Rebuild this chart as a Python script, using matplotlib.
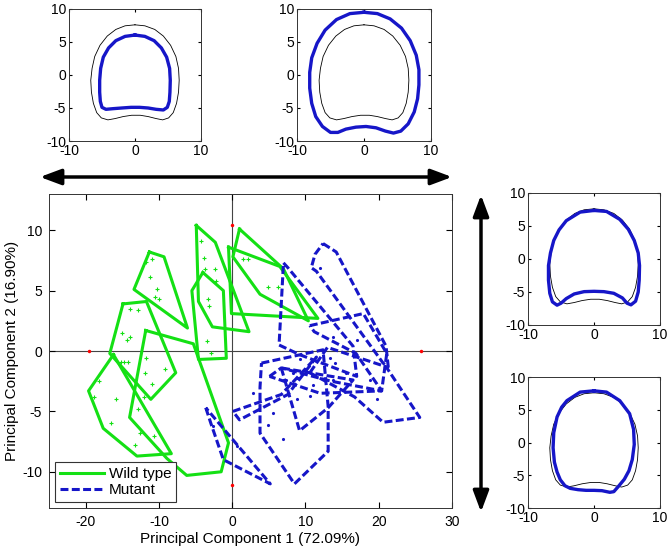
import numpy as np
import matplotlib.pyplot as plt
from matplotlib.patches import FancyArrowPatch

plt.rcParams['font.family'] = ['Liberation Sans', 'DejaVu Sans']
plt.rcParams['axes.unicode_minus'] = False

GREEN = '#14e014'
BLUE = '#1616c8'

# convex hulls in PC space, one per embryo
wild_type_hulls = [
    [(-11.3, 8.2), (-9.3, 7.8), (-6.1, 1.9), (-13.4, 5.1)],
    [(-14.9, 3.9), (-11.7, 4.1), (-7.7, -1.8), (-11.1, -4.0), (-16.7, -0.2)],
    [(-4.9, 10.4), (-2.3, 9.0), (2.3, 1.6), (-2.7, 2.0), (-4.6, 4.1)],
    [(-4.0, 6.5), (-1.2, 5.0), (-0.8, -0.6), (-4.6, -0.7), (-5.5, 5.0)],
    [(1.0, 10.1), (7.0, 6.8), (10.4, 2.5), (3.8, 4.7), (0.1, 7.8)],
    [(-0.5, 8.6), (6.5, 7.0), (11.7, 2.7), (-0.1, 3.1)],
    [(-16.2, -0.3), (-8.3, -8.5), (-13.0, -8.7), (-17.6, -6.4), (-19.6, -3.3)],
    [(-11.8, 1.7), (-5.3, 0.6), (-0.5, -7.6), (-1.5, -10.0), (-6.2, -10.3), (-8.9, -8.9), (-14.0, -5.5)],
]

mutant_hulls = [
    [(7.0, 7.3), (7.6, 6.9), (16.5, 0.4), (17.0, -2.1), (9.2, -0.3), (6.4, 0.5), (6.8, 5.0)],
    [(12.4, 8.9), (14.2, 8.2), (21.0, 0.4), (21.3, -1.3), (20.6, -1.0), (11.5, 6.6), (10.8, 6.9), (11.3, 8.0)],
    [(10.6, 2.1), (17.9, 3.1), (21.1, -0.2), (20.4, -3.3), (16.9, -0.2), (11.2, 1.6)],
    [(4.0, -1.0), (12.4, 0.1), (13.1, -4.6), (13.1, -8.3), (8.5, -11.0), (3.8, -6.8), (3.8, -3.0)],
    [(-3.6, -4.7), (-2.9, -6.0), (-1.2, -9.0), (5.2, -11.0)],
    [(6.7, -1.4), (9.2, -6.6), (13.1, -4.7), (16.5, -2.4), (10.6, -1.8)],
    [(10.6, -1.8), (16.7, -3.8), (20.6, -5.9), (25.6, -5.5), (21.0, -1.3), (13.0, 0.3)],
    [(0.1, -5.0), (6.7, -3.6), (11.5, -0.5), (7.6, -3.6), (1.0, -5.7)],
    [(5.1, -2.1), (6.7, -1.4), (13.5, -2.5), (20.4, -3.3), (12.0, -3.5)],
]

wt_pts_x = [-11.7, -10.9, -11.2, -10.2, -10.5, -10.0, -14.0, -12.8, -15.1, -13.9, -14.4,
            -11.8, -11.9, -11.0, -9.1, -4.3, -3.9, -3.7, -2.4, -2.2, -3.3, -3.1, -3.4, -2.9,
            1.5, 2.2, 4.9, 6.2, -18.2, -18.9, -15.8, -16.5, -13.3, -12.6, -10.7, -12.8,
            -15.2, -14.8, -14.2, -12.1]
wt_pts_y = [7.4, 7.6, 6.1, 5.1, 4.5, 4.3, 3.5, 3.4, 1.5, 1.2, 0.9,
            -0.6, -1.8, -2.7, -1.5, 9.1, 7.7, 6.8, 6.8, 5.8, 4.3, 3.7, 0.8, -0.2,
            7.6, 7.6, 5.3, 5.3, -2.5, -3.8, -4.0, -6.0, -7.8, -6.8, -7.0, -4.8,
            -0.9, -0.9, -0.9, -3.8]

mut_pts_x = [4.9, 7.0, 8.8, 10.6, 19.7, 17.0, 13.3, 14.0, 12.0, 9.2, 8.3, 13.8, 15.6,
             7.4, 11.0, 0.6, -2.6, 2.9, 18.8, 13.8, 5.6]
mut_pts_y = [-6.1, -7.3, -4.0, -3.75, -4.0, 0.9, -0.6, -1.0, 6.9, -0.7, -1.8, 1.2, -1.8,
             -2.4, -2.8, -7.9, -6.2, -3.5, -2.4, -2.4, -5.1]

# ends of the PC axes
pc_end_x = [-19.5, 25.8, 0, 0]
pc_end_y = [0, 0, 10.4, -11.1]

# outlines: mean shape and shapes at the PC extremes
mean_shape = [(0, 7.6), (1.5, 7.45), (3.0, 6.9), (4.3, 5.9), (5.4, 4.5), (6.2, 2.8), (6.6, 1.0),
              (6.7, -0.8), (6.6, -2.6), (6.3, -4.3), (5.8, -5.7), (5.1, -6.5), (4.2, -6.8),
              (3.2, -6.6), (2.0, -6.3), (0.8, -6.1), (-0.5, -6.1), (-1.8, -6.3), (-3.0, -6.6),
              (-4.1, -6.8), (-5.1, -6.5), (-5.8, -5.7), (-6.3, -4.3), (-6.6, -2.6), (-6.7, -0.8),
              (-6.5, 1.0), (-6.1, 2.8), (-5.3, 4.5), (-4.2, 5.9), (-2.9, 6.9), (-1.5, 7.45), (0, 7.6)]
pc1_low = [(0, 6.05), (1.5, 5.85), (2.9, 5.2), (4.0, 4.1), (4.8, 2.7), (5.25, 1.0), (5.35, -0.8),
           (5.3, -2.6), (5.2, -4.0), (4.9, -4.9), (4.3, -5.3), (3.2, -5.2), (2.0, -5.0), (0.7, -4.9),
           (-0.6, -4.9), (-2.0, -5.0), (-3.3, -5.1), (-4.4, -5.2), (-5.0, -4.9), (-5.25, -4.0),
           (-5.35, -2.6), (-5.35, -0.8), (-5.2, 1.0), (-4.8, 2.7), (-4.0, 4.1), (-2.9, 5.2),
           (-1.5, 5.85), (0, 6.05)]
pc1_high = [(0, 9.5), (2.0, 9.3), (3.9, 8.5), (5.6, 7.1), (6.9, 5.2), (7.8, 3.0), (8.2, 0.8),
            (8.2, -1.5), (8.0, -3.6), (7.5, -5.6), (6.6, -7.4), (5.5, -8.5), (4.4, -8.8), (3.2, -8.5),
            (1.8, -8.0), (0.3, -7.8), (-1.2, -7.9), (-2.7, -8.2), (-3.9, -8.7), (-5.0, -8.7),
            (-6.2, -7.8), (-7.2, -6.3), (-7.8, -4.3), (-8.1, -2.0), (-8.1, 0.4), (-7.8, 2.6),
            (-7.0, 4.8), (-5.8, 6.8), (-4.1, 8.4), (-2.1, 9.3), (0, 9.5)]
pc2_high = [(0, 7.35), (1.9, 7.2), (3.9, 6.0), (5.2, 4.5), (6.1, 2.8), (6.7, 0.9), (6.9, -1.0),
            (6.85, -3.2), (6.7, -5.0), (6.3, -6.4), (5.6, -6.95), (5.0, -6.7), (4.3, -5.9), (3.0, -5.2),
            (1.5, -4.95), (0, -4.9), (-1.5, -4.95), (-3.0, -5.3), (-4.2, -6.0), (-5.0, -6.7),
            (-5.6, -7.0), (-6.3, -6.5), (-6.7, -5.2), (-6.9, -3.2), (-6.9, -1.0), (-6.6, 0.9),
            (-6.1, 2.8), (-5.3, 4.4), (-4.2, 5.8), (-2.1, 7.1), (0, 7.35)]
pc2_low = [(0, 7.9), (1.9, 7.7), (3.9, 6.4), (5.4, 4.4), (6.0, 2.0), (6.1, -0.3), (5.8, -2.6),
           (5.3, -4.3), (4.6, -5.6), (3.7, -6.7), (3.0, -7.5), (2.4, -7.6), (1.2, -7.35), (0, -7.3),
           (-1.2, -7.3), (-2.4, -7.2), (-3.6, -7.0), (-4.4, -6.6), (-5.1, -5.7), (-5.6, -4.5),
           (-6.0, -3.0), (-6.2, -0.8), (-6.1, 1.5), (-5.6, 3.9), (-4.9, 5.4), (-4.1, 6.4),
           (-2.1, 7.7), (0, 7.9)]


def closed(poly):
    p = np.array(poly + [poly[0]])
    return p[:, 0], p[:, 1]


def draw_shape(fig, rect, shape):
    a = fig.add_axes(rect)
    m = np.array(mean_shape)
    s = np.array(shape)
    a.plot(m[:, 0], m[:, 1], color='black', lw=0.6)
    a.plot(s[:, 0], s[:, 1], color=BLUE, lw=2.4, solid_joinstyle='round')
    a.set_xlim(-10, 10)
    a.set_ylim(-10, 10)
    a.set_xticks([-10, 0, 10])
    a.set_yticks([-10, -5, 0, 5, 10])
    a.tick_params(direction='in', top=True, right=True, length=2, labelsize=10, pad=2)
    for sp in a.spines.values():
        sp.set_linewidth(0.7)
        sp.set_color('#333333')
    return a


fig = plt.figure(figsize=(6.71, 5.51), dpi=100)

ax = fig.add_axes([0.073, 0.078, 0.6006, 0.5699])
ax.axhline(0, color='#444444', lw=0.8, zorder=1)
ax.axvline(0, color='#444444', lw=0.8, zorder=1)

for i, poly in enumerate(wild_type_hulls):
    x, y = closed(poly)
    ax.plot(x, y, color=GREEN, lw=2.2, label='Wild type' if i == 0 else None)
for i, poly in enumerate(mutant_hulls):
    x, y = closed(poly)
    ax.plot(x, y, color=BLUE, lw=2.2, ls=(0, (2.6, 1.1)), label='Mutant' if i == 0 else None)

ax.plot(wt_pts_x, wt_pts_y, '+', color=GREEN, ms=3, mew=0.8)
ax.plot(mut_pts_x, mut_pts_y, '.', color=BLUE, ms=2.5)
ax.plot(pc_end_x, pc_end_y, 'o', color='red', ms=2.5, mew=0)

ax.set_xlim(-25, 30)
ax.set_ylim(-13, 13)
ax.set_xticks([-20, -10, 0, 10, 20, 30])
ax.set_yticks([-10, -5, 0, 5, 10])
ax.tick_params(direction='in', top=True, right=True, length=4, labelsize=10, pad=5)
for sp in ax.spines.values():
    sp.set_linewidth(0.7)
    sp.set_color('#333333')
ax.set_xlabel('Principal Component 1 (72.09%)', fontsize=11, labelpad=2)
ax.set_ylabel('Principal Component 2 (16.90%)', fontsize=11, labelpad=2)

leg = ax.legend(loc='lower left', fontsize=11, handlelength=2.9, fancybox=False,
                edgecolor='#333333', framealpha=1, borderaxespad=0.4, borderpad=0.3,
                labelspacing=0.15, handletextpad=0.3)
leg.get_frame().set_linewidth(0.8)

draw_shape(fig, [0.1028, 0.7441, 0.1967, 0.2396], pc1_low)
draw_shape(fig, [0.4426, 0.7441, 0.1997, 0.2396], pc1_high)
draw_shape(fig, [0.7869, 0.4102, 0.1967, 0.2396], pc2_high)
draw_shape(fig, [0.7869, 0.0780, 0.1967, 0.2377], pc2_low)

style = '<|-|>,head_length=0.75,head_width=0.28'
arr_h = FancyArrowPatch((40 / 671, 1 - 177 / 551), (452 / 671, 1 - 177 / 551), transform=fig.transFigure,
                        arrowstyle=style, mutation_scale=17, lw=2.5, color='black', shrinkA=0, shrinkB=0)
arr_v = FancyArrowPatch((481 / 671, 1 - 195 / 551), (481 / 671, 1 - 512 / 551), transform=fig.transFigure,
                        arrowstyle=style, mutation_scale=17, lw=2.5, color='black', shrinkA=0, shrinkB=0)
fig.add_artist(arr_h)
fig.add_artist(arr_v)

fig.savefig('out.png', dpi=100, facecolor='white')
